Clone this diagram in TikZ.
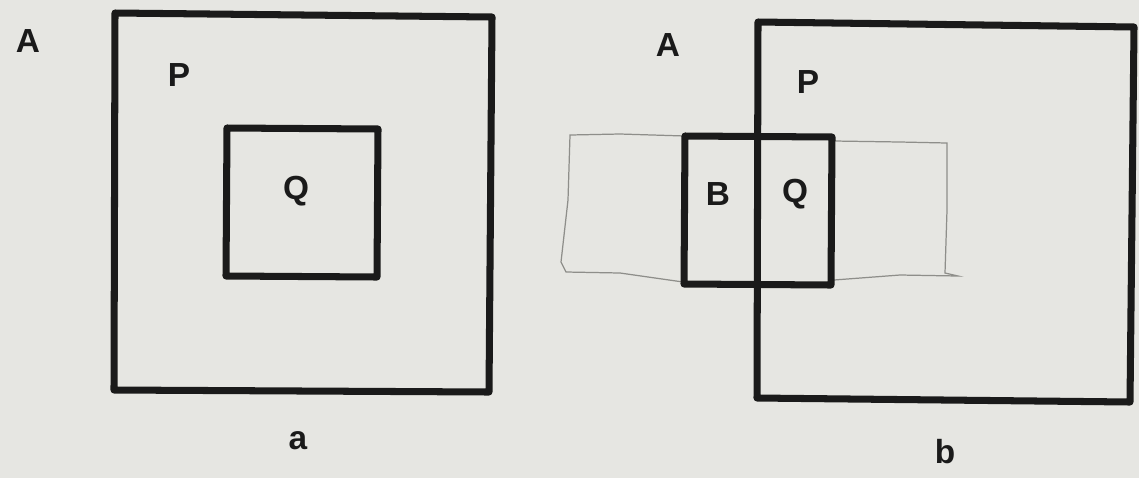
\documentclass[tikz,border=0pt]{standalone}
\usepackage{fontspec}
\setmainfont{Liberation Sans}
\definecolor{paper}{HTML}{E6E6E2}
\definecolor{ink}{HTML}{1A1A1A}
\definecolor{pencil}{HTML}{8E8E8A}
\tikzset{
  box/.style={ink,line width=4pt,line join=round},
  sketch/.style={pencil,line width=0.7pt},
  lab/.style={ink,font=\bfseries\fontsize{19}{21}\selectfont,inner sep=0pt}
}

\begin{document}
\begin{tikzpicture}[x=0.02cm,y=-0.02cm]
  % page
  \fill[paper] (0,0) rectangle (1139,478);
  \useasboundingbox (0,0) rectangle (1139,478);
  % panel a
  \draw[box] (115,13) -- (492,17) -- (489,392) -- (114,390) -- cycle;
  \draw[box] (227,128) -- (378,129) -- (377,277) -- (226,276) -- cycle;
  \node[lab] (aA) at (28,41) {A};
  \node[lab] (aP) at (179,75) {P};
  \node[lab] (aQ) at (296,191) {Q};
  \node[lab] (aa) at (298,441) {a};
  % panel b: pencil band behind
  \draw[sketch] (685,136) -- (620,134) -- (570,135) -- (568,200) -- (561,262)
    -- (566,272) -- (620,273) -- (683,282);
  \draw[sketch] (834,141) -- (900,142) -- (947,143) -- (947,210) -- (945,273)
    -- (958,276) -- (900,275) -- (834,280);
  \draw[box] (758,22) -- (1134,27) -- (1130,402) -- (757,398) -- cycle;
  \draw[box] (685,136) -- (832,137) -- (831,285) -- (684,284) -- cycle;
  \node[lab] (bA) at (668,45) {A};
  \node[lab] (bP) at (808,82) {P};
  \node[lab] (bB) at (718,194) {B};
  \node[lab] (bQ) at (795,194) {Q};
  \node[lab] (bb) at (945,452) {b};
\end{tikzpicture}
\end{document}
